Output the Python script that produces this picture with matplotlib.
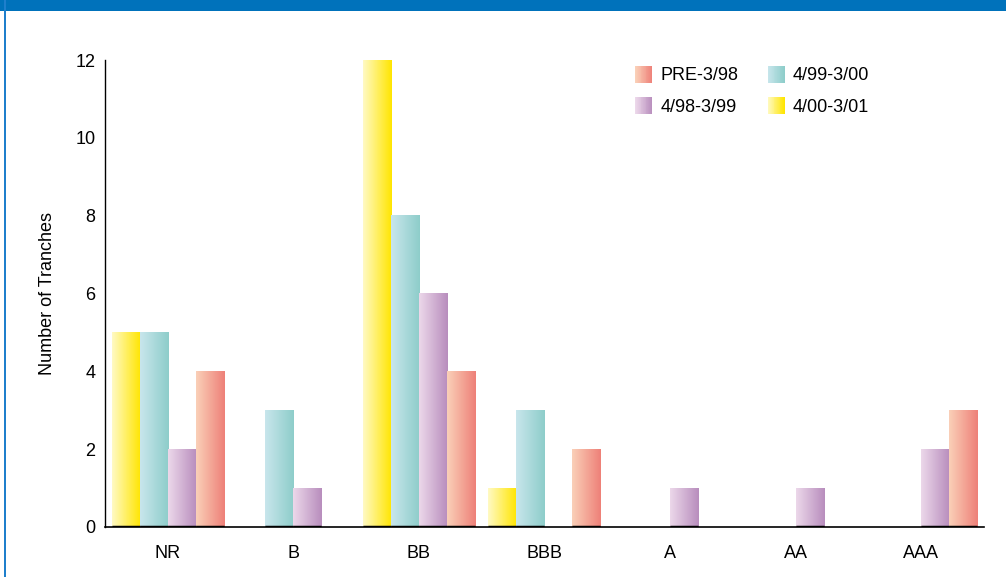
import numpy as np
import matplotlib
matplotlib.use("Agg")
import matplotlib.pyplot as plt
from matplotlib.colors import LinearSegmentedColormap
from matplotlib.legend_handler import HandlerBase
from matplotlib.patches import Rectangle

plt.rcParams['font.family'] = ['Liberation Sans Narrow', 'Liberation Sans', 'DejaVu Sans']

# ratings and tranche counts per issuance period
ratings = ["NR", "B", "BB", "BBB", "A", "AA", "AAA"]
periods = ["4/00-3/01", "4/99-3/00", "4/98-3/99", "PRE-3/98"]
counts_0001 = [5, 0, 12, 1, 0, 0, 0]
counts_9900 = [5, 3, 8, 3, 0, 0, 0]
counts_9899 = [2, 1, 6, 0, 1, 1, 2]
counts_pre98 = [4, 0, 4, 2, 0, 0, 3]
yticks = [0, 2, 4, 6, 8, 10, 12]

# light -> saturated horizontal gradient for each series
gradients = [
    ("#fffac4", "#ffe500"),
    ("#c8e6ec", "#8ecdca"),
    ("#ecd8ea", "#b88dbd"),
    ("#fad0b8", "#ee8078"),
]
series = [counts_0001, counts_9900, counts_9899, counts_pre98]

fig = plt.figure(figsize=(10.06, 5.77), dpi=100)
ax = fig.add_axes([0.1044, 0.0867, 0.8737, 0.8093])

width = 0.223
x = np.arange(len(ratings))
ramp = np.linspace(0, 1, 128).reshape(1, -1)
cmaps = [LinearSegmentedColormap.from_list("g%d" % i, g) for i, g in enumerate(gradients)]

for i, vals in enumerate(series):
    offs = (i - 1.5) * width
    for xi, v in zip(x, vals):
        if v <= 0:
            continue
        x0 = xi + offs - width / 2
        x1 = xi + offs + width / 2
        ax.imshow(ramp, cmap=cmaps[i], extent=[x0, x1, 0, v], aspect='auto',
                  interpolation='bilinear', zorder=2)
        ax.plot([x0, x1], [0, 0], color='black', lw=2.5, solid_capstyle='butt', zorder=3)

ax.set_xlim(-0.5, 6.5)
ax.set_ylim(0, 12)
ax.set_xticks(x)
ax.set_xticklabels(ratings, fontsize=13)
ax.set_yticks(yticks)
ax.set_yticklabels([str(t) for t in yticks], fontsize=13)
ax.tick_params(axis='both', length=0)
ax.tick_params(axis='x', pad=13)
ax.tick_params(axis='y', pad=7)
ax.set_ylabel("Number of Tranches", fontsize=13, labelpad=14)
ax.spines['top'].set_visible(False)
ax.spines['right'].set_visible(False)
ax.spines['left'].set_color('black')
ax.spines['bottom'].set_color('black')
ax.spines['left'].set_linewidth(1.0)
ax.spines['bottom'].set_linewidth(1.2)
ax.set_facecolor('white')


class GradientHandler(HandlerBase):
    def __init__(self, cols):
        super().__init__()
        self.cmap = LinearSegmentedColormap.from_list("leg", cols)

    def create_artists(self, legend, orig_handle, xdescent, ydescent,
                       width, height, fontsize, trans):
        n = 20
        side = height * 1.05
        step = side / n
        y0 = -ydescent + (height - side) / 2
        arts = []
        for k in range(n):
            r = Rectangle((-xdescent + k * step, y0), step * 1.05, side,
                          facecolor=self.cmap(k / (n - 1)), edgecolor='none',
                          transform=trans)
            arts.append(r)
        return arts


handles = [Rectangle((0, 0), 1, 1) for _ in periods]
order = [3, 2, 1, 0]
leg = ax.legend([handles[i] for i in order], [periods[i] for i in order],
                handler_map={handles[i]: GradientHandler(gradients[i]) for i in range(4)},
                ncol=2, frameon=False, fontsize=13, loc='upper left',
                bbox_to_anchor=(0.585, 1.022), handlelength=1.0, handleheight=1.0,
                handletextpad=0.4, columnspacing=1.6, labelspacing=0.72)

# blue frame
fig.patches.append(Rectangle((0, 1 - 10.5 / 577), 1, 10.5 / 577, transform=fig.transFigure,
                             facecolor='#0072bb', edgecolor='none'))
fig.patches.append(Rectangle((4 / 1006, 0), 2.5 / 1006, 1, transform=fig.transFigure,
                             facecolor='#1f7fcc', edgecolor='none'))

fig.savefig("out.png", dpi=100)
